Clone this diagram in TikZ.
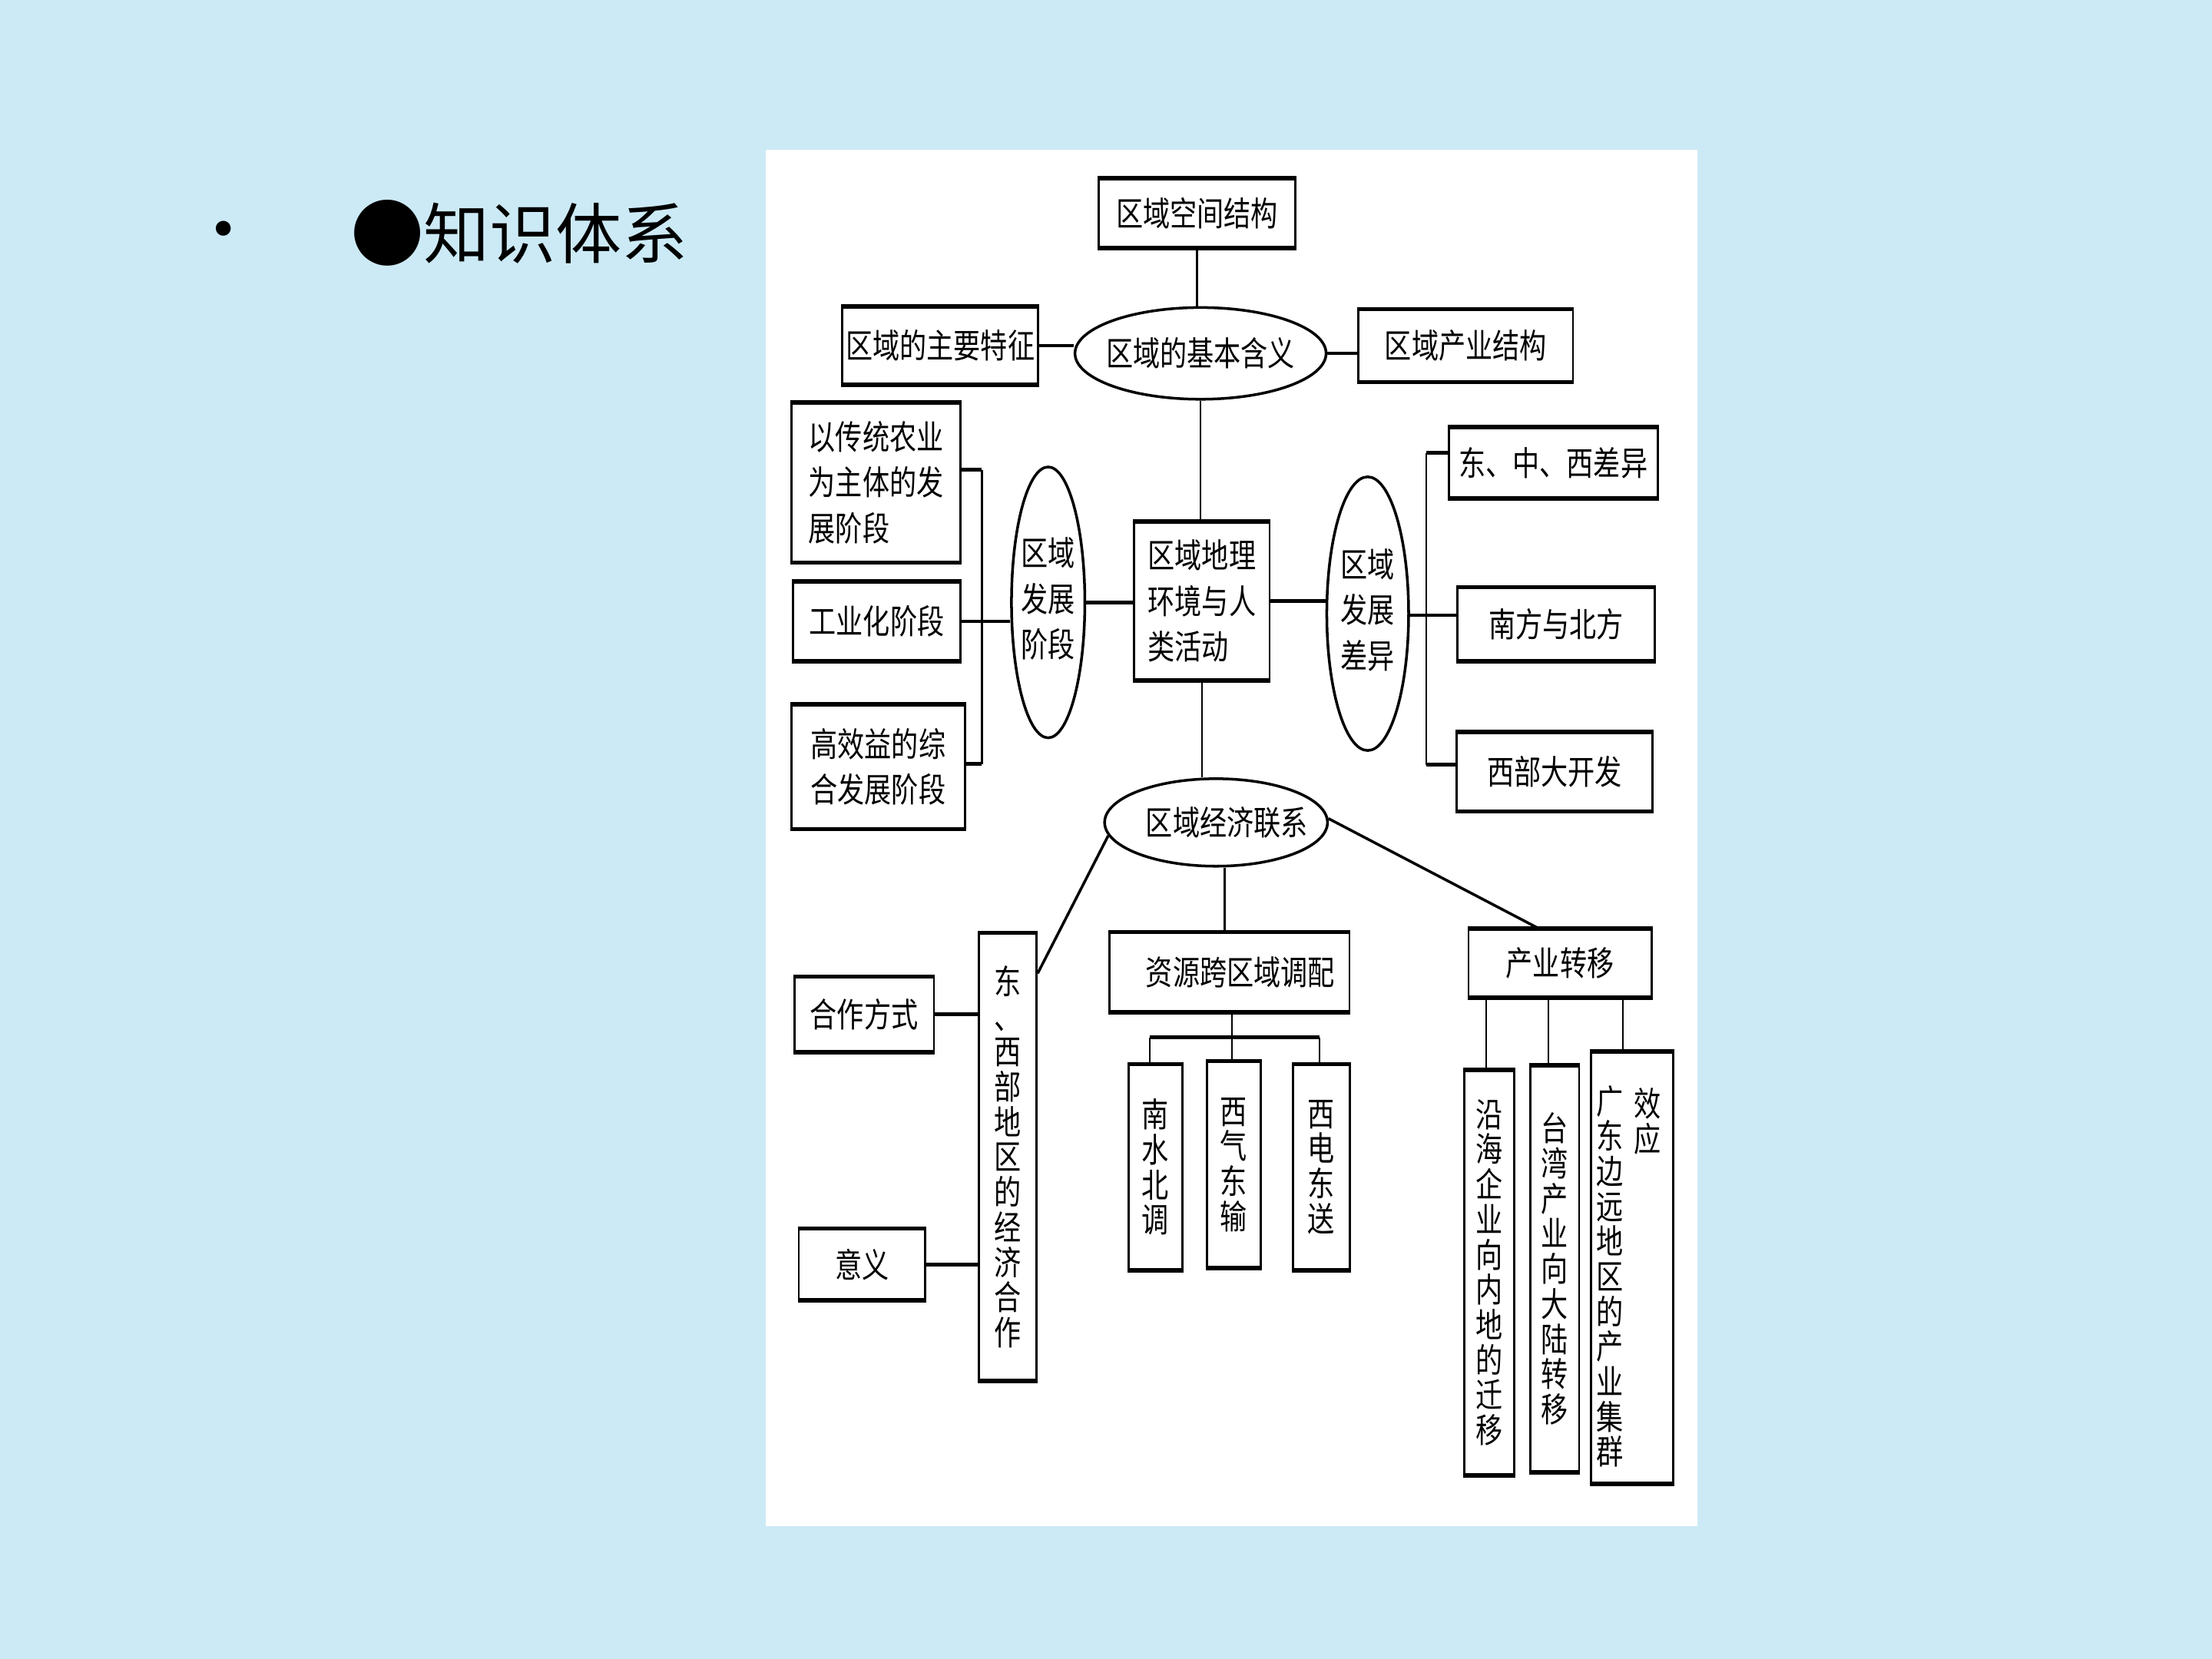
\documentclass[tikz,border=0pt]{standalone}
\usepackage{fontspec}
\usetikzlibrary{shapes.geometric}
\newfontfamily\cjk[FakeStretch=0.8]{Noto Sans CJK SC}
\newfontfamily\cjktitle{Noto Sans CJK SC}
\newfontfamily\dejavu{DejaVu Sans}
\definecolor{bgblue}{RGB}{204,234,246}
\begin{document}
\begin{tikzpicture}[x=0.018367cm, y=-0.018367cm,
  sz/.style 2 args={minimum width=#1*0.018367cm, minimum height=#2*0.018367cm},
  box/.style={draw, line width=0.8pt, fill=white, inner sep=0pt, font=\cjk\fontsize{12.5}{17}\selectfont},
  vbox/.style={box, align=center, font=\cjk\fontsize{12.5}{13}\selectfont},
  vtext/.style={inner sep=0pt, align=center, font=\cjk\fontsize{12.5}{13}\selectfont},
  oval/.style={draw, ellipse, line width=1pt, fill=white, inner sep=0pt, font=\cjk\fontsize{12.5}{17}\selectfont},
  hl/.style={line width=1.3pt},
  vl/.style={line width=0.7pt},
  dl/.style={line width=1pt},
  edge/.style={line width=1.6pt}
]
\useasboundingbox (0,0) rectangle (1568,1176);
\fill[bgblue] (0,0) rectangle (1568,1176);
\fill[white] (543,106) rectangle (1203,1082);

% title
\node[inner sep=0pt, font=\dejavu\fontsize{19}{19}\selectfont] (bul) at (158.6,166) {•};
\node[inner sep=0pt, font=\dejavu\fontsize{32}{32}\selectfont] (dot) at (274.5,165) {●};
\node[inner sep=0pt, anchor=west, font=\cjktitle\fontsize{24.5}{30}\selectfont] (title) at (300,165.5) {知识体系};

% top
\node[box, sz={139}{48}] (kj) at (848.5,151) {区域空间结构};
\node[box, sz={139}{54}] (tz) at (666.5,245) {区域的主要特征};
\node[oval, sz={178}{65}] (hy) at (851,250.5) {\makebox[0pt]{区域的基本含义}};
\node[box, sz={152}{50}] (cy) at (1039,245) {区域产业结构\hspace{6pt}};
\node[box, sz={96}{111}, align=left] (c) at (852,426) {区域地理\\环境与人\\类活动};

% left
\node[oval, sz={52}{192}] (jd) at (743,427) {\makebox[0pt]{\begin{tabular}{@{}c@{}}区域\\发展\\阶段\end{tabular}}};
\node[box, sz={120}{112}, align=left] (l1) at (621,342) {以传统农业\\为主体的发\\展阶段};
\node[box, sz={119}{55}] (l2) at (621.5,440.5) {工业化阶段};
\node[box, sz={123}{87}, align=left] (l3) at (622.5,543.5) {高效益的综\\合发展阶段};

% right
\node[oval, sz={58}{194}] (fz) at (969.5,435) {\makebox[0pt]{\begin{tabular}{@{}c@{}}区域\\发展\\差异\end{tabular}}};
\node[box, sz={148}{49}] (r1) at (1101,328) {东、中、西差异};
\node[box, sz={140}{51}] (r2) at (1103,442.5) {南方与北方\hspace{12pt}};
\node[box, sz={139}{55}] (r3) at (1102,547) {西部大开发\hspace{9pt}};

% bottom
\node[oval, sz={158}{62}] (jl) at (862,583) {\makebox[0pt]{\hspace{8pt}区域经济联系}};
\node[vbox, sz={41}{316}] (dx) at (714.3,820) {东\\、\\西\\部\\地\\区\\的\\经\\济\\合\\作};
\node[box, sz={99}{52}] (hz) at (612.5,719) {合作方式};
\node[box, sz={89.5}{49.5}] (yy) at (611,896.3) {意义};
\node[box, sz={170}{55.5}] (zy) at (871.6,689.2) {\hspace{8pt}资源跨区域调配};
\node[vbox, sz={38}{144.6}] (ns) at (819,827.3) {南\\水\\北\\调};
\node[vbox, sz={38}{145}] (xq) at (874.5,825.5) {西\\气\\东\\输};
\node[vbox, sz={40.5}{144.6}] (xd) at (936.6,827.3) {西\\电\\东\\送};
\node[box, sz={129.6}{47.5}] (cz) at (1105.8,682.8) {产业转移\hspace{7pt}};
\node[vbox, sz={35.5}{286}] (yh) at (1055.7,902) {沿\\海\\企\\业\\向\\内\\地\\的\\迁\\移};
\node[vbox, sz={34.6}{287.3}] (tw) at (1102.1,899.4) {台\\湾\\产\\业\\向\\大\\陆\\转\\移};
\node[box, sz={58.3}{304.7}] (gd) at (1156.8,898.6) {};
\node[vtext, anchor=north] (gd1) at (1141,769) {广\\东\\边\\远\\地\\区\\的\\产\\业\\集\\群};
\node[vtext, anchor=north] (gd2) at (1168,771) {效\\应};

% thick top/bottom edges
\foreach \n in {kj,tz,cy,c,l1,l2,l3,r1,r2,r3,dx,hz,yy,zy,ns,xq,xd,cz,yh,tw,gd}
  \draw[edge] (\n.north west) -- (\n.north east) (\n.south west) -- (\n.south east);

% connectors top
\draw[vl] (kj.south) -- (kj.south |- hy.north);
\draw[hl] (tz.east) -- (tz.east -| hy.west);
\draw[hl] (hy.east) -- (hy.east -| cy.west);
\draw[vl] (hy.south) -- (hy.south |- c.north);

% left bracket
\coordinate (bLt) at (696,333);
\coordinate (bLb) at (696,541.5);
\draw[vl] (bLt) -- (bLb);
\draw[hl] (l1.east |- bLt) -- (bLt);
\draw[hl] (l3.east |- bLb) -- (bLb);
\draw[hl] (l2.east) -- (l2.east -| jd.west);
\draw[hl] (jd.east) -- (jd.east -| c.west);

% right bracket
\coordinate (bRt) at (1011,321);
\coordinate (bRm) at (1011,436);
\coordinate (bRb) at (1011,542);
\draw[vl] (bRt) -- (bRb);
\draw[hl] (bRt) -- (bRt -| r1.west);
\draw[hl] (bRb) -- (bRb -| r3.west);
\draw[hl] (fz.east |- bRm) -- (bRm -| r2.west);
\draw[hl] (c.east) -- (c.east -| fz.west);

% bottom
\draw[vl] (c.south) -- (c.south |- jl.north);
\draw[dl] (jl.187) -- (dx.east |- 0,690);
\draw[hl] (hz.east) -- (hz.east -| dx.west);
\draw[hl] (yy.east) -- (yy.east -| dx.west);
\draw[vl] (868,0 |- jl.south) -- (868,0 |- zy.north);
\coordinate (zyb) at (873.3,735.4);
\draw[vl] (zy.south -| zyb) -- (zyb);
\draw[hl] (815,0 |- zyb) -- (935.2,0 |- zyb);
\draw[vl] (815,0 |- zyb) -- (815,0 |- ns.north);
\draw[vl] (zyb) -- (zyb |- xq.north);
\draw[vl] (935.2,0 |- zyb) -- (935.2,0 |- xd.north);
\draw[dl] (jl.2) -- (1091,0 |- cz.north);
\draw[vl] (1053.5,0 |- cz.south) -- (1053.5,0 |- yh.north);
\draw[vl] (1097.6,0 |- cz.south) -- (1097.6,0 |- tw.north);
\draw[vl] (1150.5,0 |- cz.south) -- (1150.5,0 |- gd.north);
\end{tikzpicture}
\end{document}
